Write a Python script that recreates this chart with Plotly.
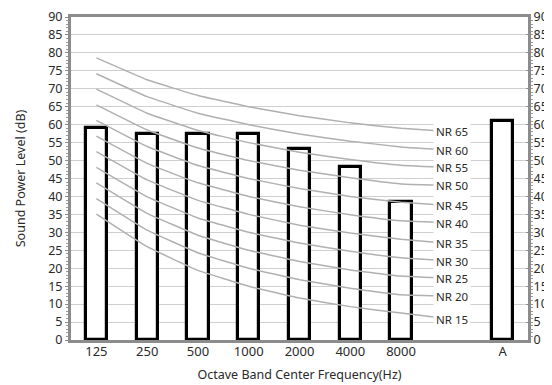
import plotly.graph_objects as go

categories = ["125", "250", "500", "1000", "2000", "4000", "8000", "", "A"]
bar_x = [0, 1, 2, 3, 4, 5, 6, 8]
bar_values = [59, 57.5, 57.5, 57.5, 53.3, 48.3, 38.5, 61]

nr_names = ["NR 15", "NR 20", "NR 25", "NR 30", "NR 35", "NR 40",
            "NR 45", "NR 50", "NR 55", "NR 60", "NR 65"]
# values at 125, 250, 500, 1000, 2000, 4000, 8000 Hz and at the label slot
nr_15 = [35.1, 26.0, 19.4, 15.0, 11.7, 9.3, 7.5, 5.8]
nr_20 = [39.4, 30.6, 24.3, 20.0, 16.8, 14.4, 12.6, 12.2]
nr_25 = [43.8, 35.3, 29.2, 25.0, 21.9, 19.5, 17.8, 17.1]
nr_30 = [48.1, 39.9, 34.0, 30.0, 27.0, 24.7, 22.9, 22.0]
nr_35 = [52.5, 44.6, 38.9, 35.0, 32.0, 29.8, 28.1, 26.8]
nr_40 = [56.8, 49.2, 43.8, 40.0, 37.1, 34.9, 33.2, 32.6]
nr_45 = [61.2, 53.9, 48.6, 45.0, 42.2, 40.0, 38.4, 37.4]
nr_50 = [65.5, 58.5, 53.5, 50.0, 47.3, 45.2, 43.5, 43.1]
nr_55 = [69.9, 63.2, 58.4, 55.0, 52.3, 50.3, 48.7, 48.0]
nr_60 = [74.2, 67.8, 63.2, 60.0, 57.4, 55.4, 53.8, 52.9]
nr_65 = [78.6, 72.5, 68.1, 65.0, 62.5, 60.5, 59.0, 58.0]
nr_curves = [nr_15, nr_20, nr_25, nr_30, nr_35, nr_40, nr_45, nr_50, nr_55, nr_60, nr_65]
nr_x = [0, 1, 2, 3, 4, 5, 6, 7]

y_ticks = list(range(0, 91, 5))

FONT = "Noto Sans"
TXT = "#2a2a2a"
AXIS = "#8c8c8c"

fig = go.Figure()

for name, vals in zip(nr_names, nr_curves):
    fig.add_trace(go.Scatter(x=nr_x, y=vals, mode="lines", name=name,
                             line=dict(color="#b0b0b0", width=1.5, shape="spline", smoothing=0.3),
                             hoverinfo="skip", showlegend=False))

fig.add_trace(go.Bar(x=bar_x, y=bar_values, width=0.42,
                     marker=dict(color="white", line=dict(color="black", width=3.2)),
                     showlegend=False))

# invisible trace to activate right axis
fig.add_trace(go.Scatter(x=[0], y=[0], yaxis="y2", mode="markers",
                         marker=dict(opacity=0), showlegend=False, hoverinfo="skip"))

for name, vals in zip(nr_names, nr_curves):
    fig.add_annotation(x=7, y=vals[-1], text=name, showarrow=False,
                       bgcolor="white", borderpad=2,
                       font=dict(family=FONT, size=11.5, color=TXT),
                       xanchor="center", yanchor="middle")

tick_font = dict(family=FONT, size=12.5, color=TXT)

# page body has an 8px margin, so the figure is offset by (8, 8)
fig.update_layout(
    width=544, height=377,
    margin=dict(l=63, r=24, t=9, b=45, autoexpand=False),
    paper_bgcolor="white", plot_bgcolor="white",
    font=dict(family=FONT, size=12, color=TXT),
    bargap=0,
    xaxis=dict(
        range=[-0.5, 8.5], tickmode="array", tickvals=list(range(9)), ticktext=categories,
        showgrid=False, zeroline=False, automargin=False,
        showline=True, linecolor=AXIS, linewidth=3, mirror=True,
        ticks="", tickfont=dict(family=FONT, size=13, color=TXT), ticklabelstandoff=-3,
        title=dict(text="Octave Band Center Frequency(Hz)", font=dict(family=FONT, size=12.5, color=TXT), standoff=12),
    ),
    yaxis=dict(
        range=[0, 90], tickmode="array", tickvals=y_ticks,
        showgrid=True, gridcolor="#cfcfcf", gridwidth=1, zeroline=False, automargin=False,
        showline=True, linecolor=AXIS, linewidth=3,
        ticks="outside", ticklen=3, tickcolor=AXIS, ticklabeloverflow="allow",
        minor=dict(dtick=1, ticks="outside", ticklen=2, tickcolor="#9a9a9a", showgrid=False),
        tickfont=tick_font,
        title=dict(text="Sound Power Level (dB)", font=dict(family=FONT, size=12.5, color=TXT), standoff=20),
    ),
    yaxis2=dict(
        range=[0, 90], overlaying="y", side="right", tickmode="array", tickvals=y_ticks,
        showgrid=False, zeroline=False, automargin=False,
        showline=True, linecolor=AXIS, linewidth=3,
        ticks="inside", ticklen=2, tickcolor=AXIS, ticklabeloverflow="allow",
        minor=dict(dtick=1, ticks="outside", ticklen=2, tickcolor="#9a9a9a", showgrid=False),
        tickfont=tick_font,
    ),
)

fig.write_html("out.html")
